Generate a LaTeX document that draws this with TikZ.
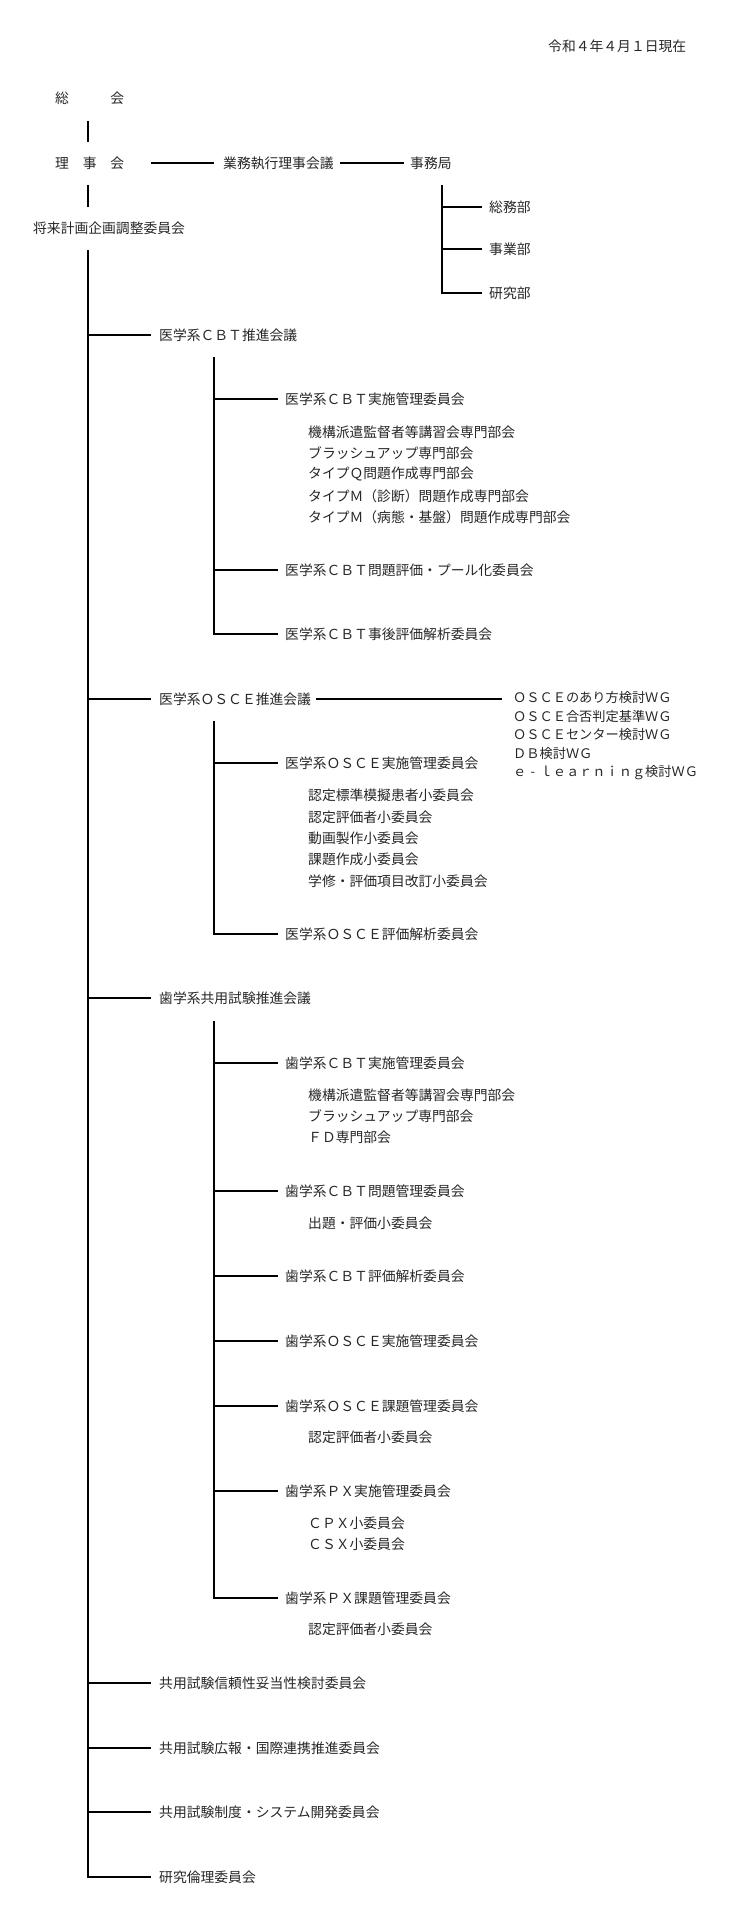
\documentclass[tikz,border=0pt]{standalone}
\usepackage{fontspec}
\setmainfont{Noto Sans CJK JP}
\usetikzlibrary{calc}
\tikzset{
  lbl/.style={anchor=west, inner sep=0pt, text=black!85, font=\fontsize{13.8}{16}\selectfont},
  wg/.style={lbl, font=\fontsize{13.2}{16}\selectfont},
  ln/.style={line width=1.6pt, black},
  br/.style={ln, shorten >=7pt},
}
\begin{document}
\begin{tikzpicture}[x=1pt,y=-1pt]
\useasboundingbox (0,0) rectangle (750,1922);
\coordinate (tx) at (88,0);
\coordinate (sx) at (214,0);
\coordinate (jx) at (442,0);
% top
\node[lbl] (date) at (548,46) {令和４年４月１日現在};
\node[lbl] (soukai) at (55,98) {総　　　会};
\node[lbl] (rijikai) at (55,163) {理　事　会};
\node[lbl] (gyomu) at (223,163) {業務執行理事会議};
\node[lbl] (jimu) at (410,163) {事務局};
\node[lbl] (somu) at (489,207) {総務部};
\node[lbl] (jigyo) at (489,249) {事業部};
\node[lbl] (kenkyu) at (489,293) {研究部};
\node[lbl] (shorai) at (33,228) {将来計画企画調整委員会};
% level 1
\node[lbl] (a1) at (159,335) {医学系ＣＢＴ推進会議};
\node[lbl] (a2) at (159,699) {医学系ＯＳＣＥ推進会議};
\node[lbl] (a3) at (159,998) {歯学系共用試験推進会議};
\node[lbl] (a4) at (159,1683) {共用試験信頼性妥当性検討委員会};
\node[lbl] (a5) at (159,1748) {共用試験広報・国際連携推進委員会};
\node[lbl] (a6) at (159,1812) {共用試験制度・システム開発委員会};
\node[lbl] (a7) at (159,1877) {研究倫理委員会};
% level 2
\node[lbl] (b11) at (285,399) {医学系ＣＢＴ実施管理委員会};
\node[lbl] (b12) at (285,570) {医学系ＣＢＴ問題評価・プール化委員会};
\node[lbl] (b13) at (285,634) {医学系ＣＢＴ事後評価解析委員会};
\node[lbl] (b21) at (285,763) {医学系ＯＳＣＥ実施管理委員会};
\node[lbl] (b22) at (285,934) {医学系ＯＳＣＥ評価解析委員会};
\node[lbl] (b31) at (285,1063) {歯学系ＣＢＴ実施管理委員会};
\node[lbl] (b32) at (285,1191) {歯学系ＣＢＴ問題管理委員会};
\node[lbl] (b33) at (285,1276) {歯学系ＣＢＴ評価解析委員会};
\node[lbl] (b34) at (285,1341) {歯学系ＯＳＣＥ実施管理委員会};
\node[lbl] (b35) at (285,1406) {歯学系ＯＳＣＥ課題管理委員会};
\node[lbl] (b36) at (285,1491) {歯学系ＰＸ実施管理委員会};
\node[lbl] (b37) at (285,1598) {歯学系ＰＸ課題管理委員会};
% level 3
\node[lbl] (c11) at (308,432) {機構派遣監督者等講習会専門部会};
\node[lbl] (c12) at (308,453) {ブラッシュアップ専門部会};
\node[lbl] (c13) at (308,474) {タイプＱ問題作成専門部会};
\node[lbl] (c14) at (308,496) {タイプＭ（診断）問題作成専門部会};
\node[lbl] (c15) at (308,517) {タイプＭ（病態・基盤）問題作成専門部会};
\node[lbl] (c21) at (308,795) {認定標準模擬患者小委員会};
\node[lbl] (c22) at (308,817) {認定評価者小委員会};
\node[lbl] (c23) at (308,838) {動画製作小委員会};
\node[lbl] (c24) at (308,859) {課題作成小委員会};
\node[lbl] (c25) at (308,881) {学修・評価項目改訂小委員会};
\node[lbl] (c31) at (308,1095) {機構派遣監督者等講習会専門部会};
\node[lbl] (c32) at (308,1116) {ブラッシュアップ専門部会};
\node[lbl] (c33) at (308,1137) {ＦＤ専門部会};
\node[lbl] (c41) at (308,1223) {出題・評価小委員会};
\node[lbl] (c51) at (308,1437) {認定評価者小委員会};
\node[lbl] (c61) at (308,1523) {ＣＰＸ小委員会};
\node[lbl] (c62) at (308,1544) {ＣＳＸ小委員会};
\node[lbl] (c71) at (308,1629) {認定評価者小委員会};
% WG
\node[wg] (w1) at (513,697) {ＯＳＣＥのあり方検討ＷＧ};
\node[wg] (w2) at (513,716) {ＯＳＣＥ合否判定基準ＷＧ};
\node[wg] (w3) at (513,735) {ＯＳＣＥセンター検討ＷＧ};
\node[wg] (w4) at (513,754) {ＤＢ検討ＷＧ};
\node[wg] (w5) at (513,773) {ｅ\makebox[1em]{-}ｌｅａｒｎｉｎｇ検討ＷＧ};
% connectors: top
\draw[ln] ($(tx |- soukai.west)+(0,23)$) -- ($(tx |- rijikai.west)+(0,-21)$);
\draw[ln] ($(tx |- rijikai.west)+(0,22)$) -- ($(tx |- shorai.west)+(0,-21)$);
\draw[ln, shorten <=27pt, shorten >=9pt] (rijikai.east) -- (gyomu.west);
\draw[ln, shorten <=6pt, shorten >=6pt] (gyomu.east) -- (jimu.west);
\draw[br] ($(jx |- jimu.west)+(0,22)$) -- (jx |- kenkyu.west) -- (kenkyu.west);
\foreach \n in {somu,jigyo} \draw[br] (jx |- \n.west) -- (\n.west);
% main trunk
\draw[ln, shorten >=8pt] ($(tx |- shorai.west)+(0,22)$) -- (tx |- a7.west) -- (a7.west);
\foreach \n in {a1,a2,a3,a4,a5,a6} \draw[ln, shorten >=8pt] (tx |- \n.west) -- (\n.west);
% sub trunks
\draw[br] ($(sx |- a1.west)+(0,22)$) -- (sx |- b13.west) -- (b13.west);
\foreach \n in {b11,b12} \draw[br] (sx |- \n.west) -- (\n.west);
\draw[br] ($(sx |- a2.west)+(0,22)$) -- (sx |- b22.west) -- (b22.west);
\draw[br] (sx |- b21.west) -- (b21.west);
\draw[br] ($(sx |- a3.west)+(0,23)$) -- (sx |- b37.west) -- (b37.west);
\foreach \n in {b31,b32,b33,b34,b35,b36} \draw[br] (sx |- \n.west) -- (\n.west);
% OSCE to WG
\draw[ln, shorten <=5pt, shorten >=11pt] (a2.east) -- (w1.west |- a2.east);
\end{tikzpicture}
\end{document}
